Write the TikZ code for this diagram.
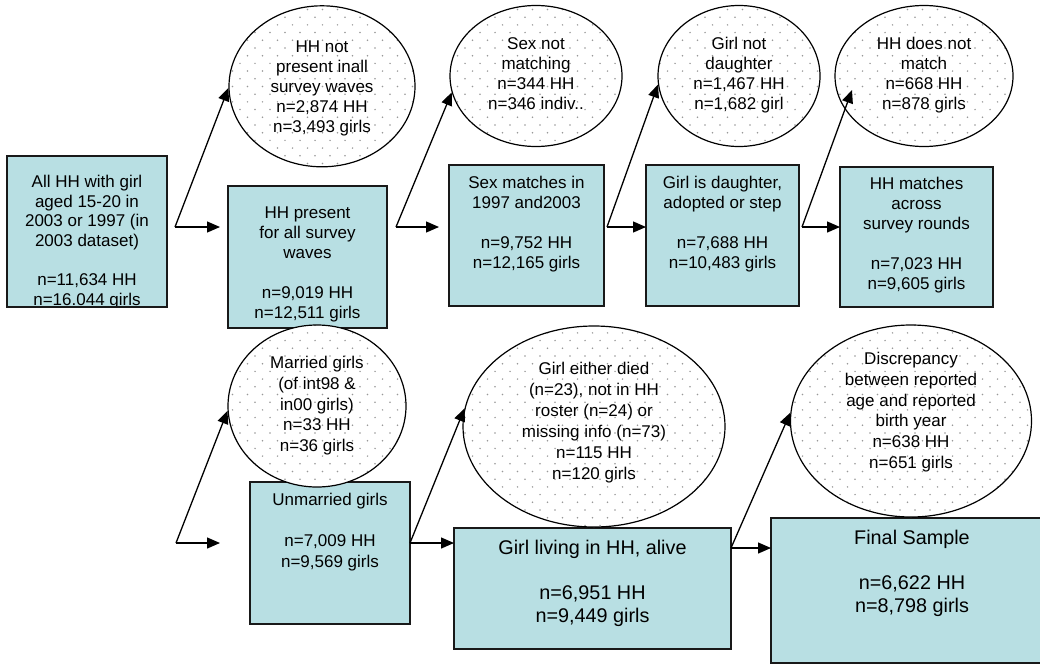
\documentclass[tikz,border=0pt]{standalone}
\usepackage{fontspec}
\setmainfont{Liberation Sans}
\usetikzlibrary{shapes.geometric,patterns,arrows.meta}
\definecolor{boxfill}{RGB}{184,223,227}
\pgfdeclarepatternformonly{ovaldots}{\pgfqpoint{-2pt}{-2pt}}{\pgfqpoint{17pt}{17.4pt}}{\pgfqpoint{15pt}{15.4pt}}{%
  \pgfpathcircle{\pgfqpoint{0pt}{0pt}}{0.85pt}\pgfusepath{fill}%
  \pgfpathcircle{\pgfqpoint{7.5pt}{7.7pt}}{0.85pt}\pgfusepath{fill}}
\tikzset{
  bx/.style={rectangle, draw=black!90, line width=1.2pt, fill=boxfill, inner sep=0pt, outer sep=0pt, anchor=north west},
  ell/.style={ellipse, draw=black, line width=1.2pt, preaction={fill=white}, pattern=ovaldots, pattern color=black!40, inner sep=0pt},
  txt/.style={align=center, inner sep=0pt, anchor=north, font=\fontsize{17}{20}\selectfont},
  txtb/.style={txt, font=\fontsize{17}{20.7}\selectfont},
  txtl/.style={txt, font=\fontsize{19.8}{23.3}\selectfont},
  arr/.style={line width=1.3pt, -{Triangle[length=13pt,width=11pt]}}
}
\begin{document}
\begin{tikzpicture}[x=1pt,y=-1pt]
\useasboundingbox (0,0) rectangle (1040,664);
% boxes
\node[bx, minimum width=160pt, minimum height=151pt] (b1) at (7,156) {};
\node[bx, minimum width=159pt, minimum height=142pt] (b2) at (228,186) {};
\node[bx, minimum width=155pt, minimum height=141pt] (b3) at (449,165) {};
\node[bx, minimum width=153pt, minimum height=141pt] (b4) at (646,165) {};
\node[bx, minimum width=153pt, minimum height=140pt] (b5) at (840,167) {};
\node[bx, minimum width=160pt, minimum height=142pt] (b6) at (250,482) {};
\node[bx, minimum width=277pt, minimum height=121pt] (b7) at (454,528) {};
\node[bx, minimum width=282pt, minimum height=145pt] (b8) at (771,518) {};
% ellipses
\node[ell, minimum width=186pt, minimum height=161pt] (e1) at (322,86.3) {};
\node[ell, minimum width=172pt, minimum height=141pt] (e2) at (536,76) {};
\node[ell, minimum width=162pt, minimum height=141pt] (e3) at (739,76) {};
\node[ell, minimum width=178pt, minimum height=141pt] (e4) at (924,76) {};
\node[ell, minimum width=178pt, minimum height=162pt] (e5) at (317,406) {};
\node[ell, minimum width=262pt, minimum height=201pt] (e6) at (594,426.5) {};
\node[ell, minimum width=241pt, minimum height=192pt] (e7) at (911,421) {};
% junctions
\coordinate (j1) at (175,227);
\coordinate (j2) at (396,227);
\coordinate (j3) at (607,227);
\coordinate (j4) at (802,227);
\coordinate (j5) at (176,543);
\coordinate (j6) at (410,543);
\coordinate (j7) at (731,548);
\coordinate (t4) at (852,90);
% connectors
\draw[arr] (j1) -- (e1.181);
\draw[arr, shorten >=8pt] (j1) -- (j1 -| b2.west);
\draw[arr] (j2) -- (e2.191);
\draw[arr, shorten >=10pt] (j2) -- (j2 -| b3.west);
\draw[arr] (j3) -- (e3.186);
\draw[arr] (j3) -- (j3 -| b4.west);
\draw[arr] (j4) -- (t4);
\draw[arr] (j4) -- (j4 -| b5.west);
\draw[arr] (j5) -- (e5.183);
\draw[arr, shorten >=30pt] (j5) -- (j5 -| b6.west);
\draw[arr] (j6) -- (e6.172);
\draw[arr] (j6) -- (j6 -| b7.west);
\draw[arr] (j7) -- (e7.176);
\draw[arr] (j7) -- (j7 -| b8.west);
% texts
\begin{scope}
\clip (8,157) rectangle (166,305);
\node[txt, font=\fontsize{17}{19.6}\selectfont] (b1t) at (87,175) {All HH with girl\\aged 15-20 in\\2003 or 1997 (in\\2003 dataset)\\[19.6pt]n=11,634 HH\\n=16.044 girls};
\end{scope}
\node[txt] (b2t) at (307.5,206.6) {HH present\\for all survey\\waves\\[20pt]n=9,019 HH\\n=12,511 girls};
\node[txt] (b3t) at (526.5,175.6) {Sex matches in\\1997 and2003\\[20pt]n=9,752 HH\\n=12,165 girls};
\node[txt] (b4t) at (722.5,175.6) {Girl is daughter,\\adopted or step\\[20pt]n=7,688 HH\\n=10,483 girls};
\node[txt] (b5t) at (916.5,177.2) {HH matches\\across\\survey rounds\\[20pt]n=7,023 HH\\n=9,605 girls};
\node[txtb] (b6t) at (330,492.9) {Unmarried girls\\[20.7pt]n=7,009 HH\\n=9,569 girls};
\node[txtl] (b7t) at (592.5,539.6) {Girl living in HH, alive\\[22pt]n=6,951 HH\\n=9,449 girls};
\node[txtl] (b8t) at (912,529.6) {Final Sample\\[22pt]n=6,622 HH\\n=8,798 girls};
\node[txt] (e1t) at (322,40.6) {HH not\\present inall\\survey waves\\n=2,874 HH\\n=3,493 girls};
\node[txt] (e2t) at (536,37.2) {Sex not\\matching\\n=344 HH\\n=346 indiv..};
\node[txt] (e3t) at (739,37.2) {Girl not\\daughter\\n=1,467 HH\\n=1,682 girl};
\node[txt] (e4t) at (924,37.2) {HH does not\\match\\n=668 HH\\n=878 girls};
\node[txtb] (e5t) at (317,356.2) {Married girls\\(of int98 \&\\in00 girls)\\n=33 HH\\n=36 girls};
\node[txtb, font=\fontsize{17}{21}\selectfont] (e6t) at (594,362.2) {Girl either died\\(n=23), not in HH\\roster (n=24) or\\missing info (n=73)\\n=115 HH\\n=120 girls};
\node[txtb] (e7t) at (911,352.2) {Discrepancy\\between reported\\age and reported\\birth year\\n=638 HH\\n=651 girls};
\end{tikzpicture}
\end{document}
